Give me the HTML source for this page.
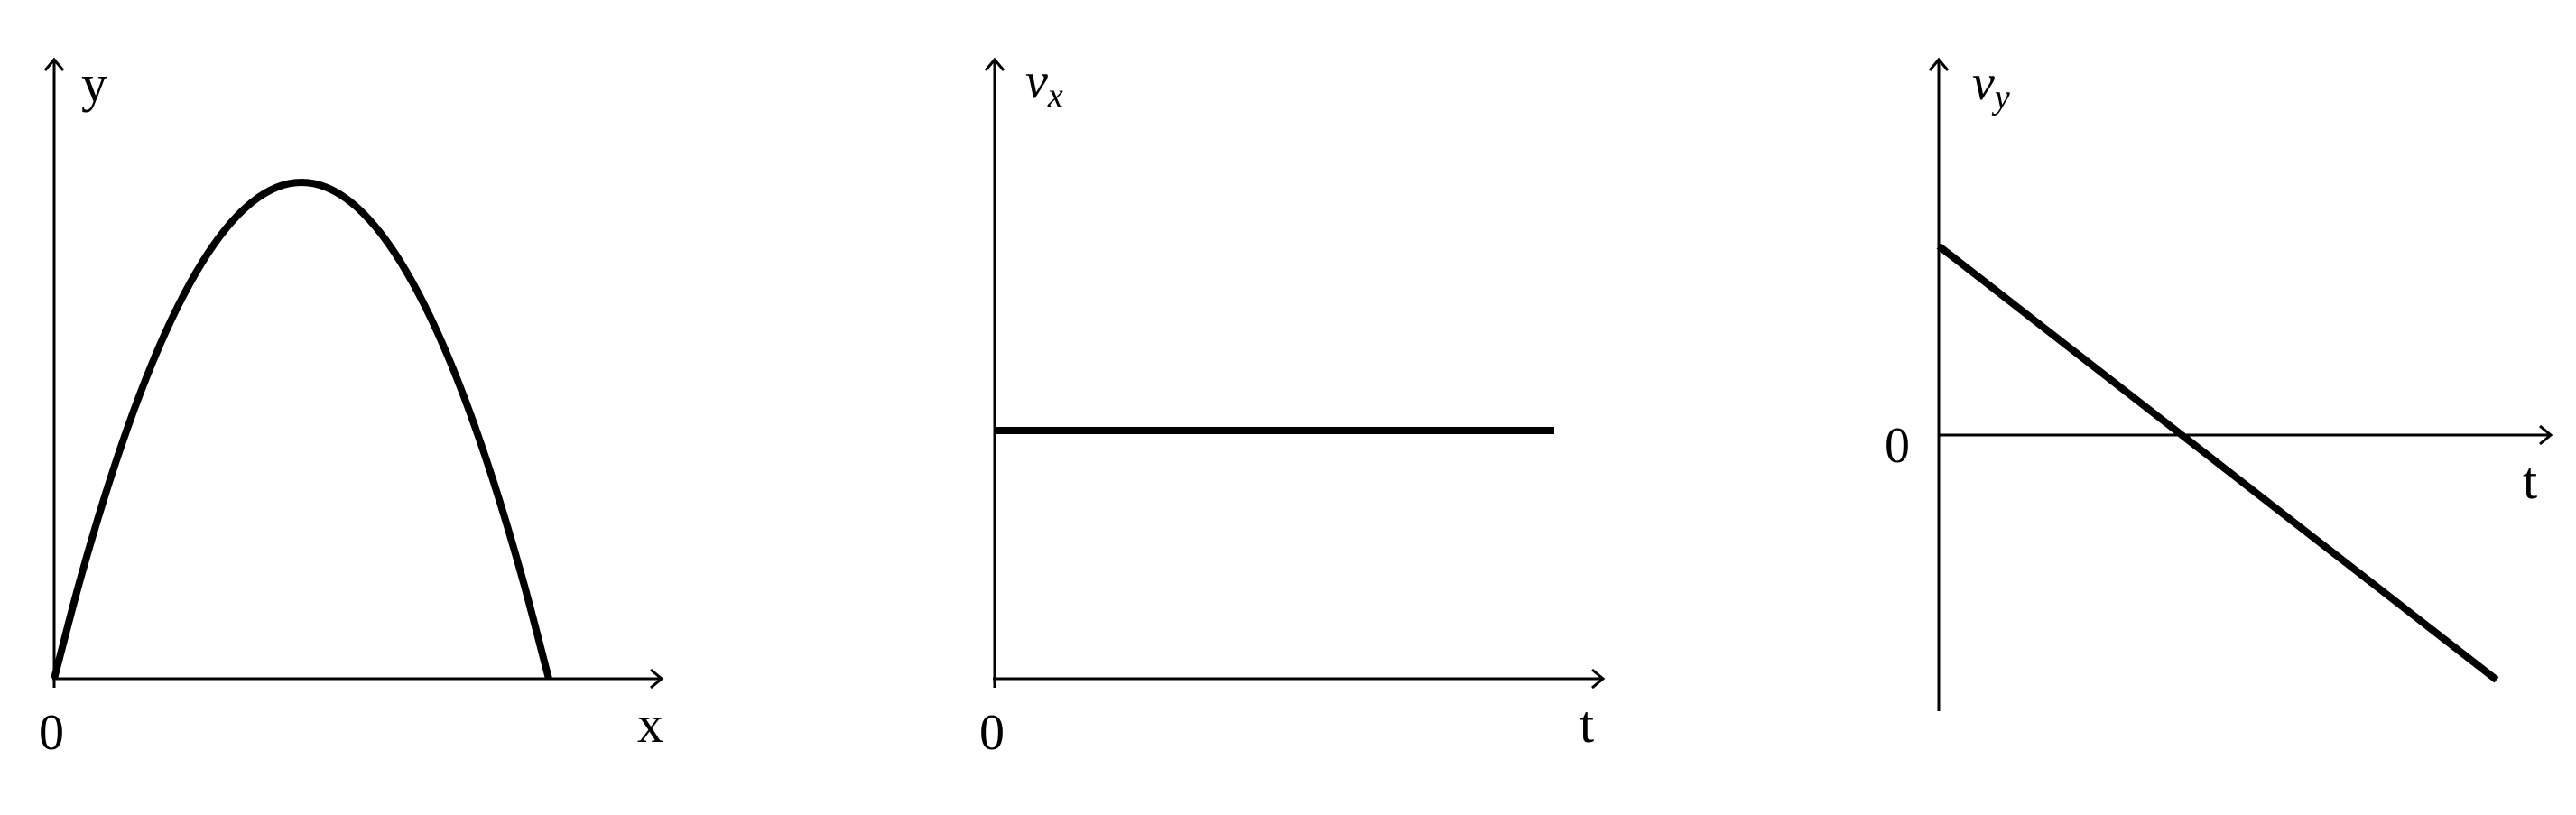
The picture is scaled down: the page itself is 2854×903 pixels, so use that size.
<!DOCTYPE html>
<html><head><meta charset="utf-8"><style>
html,body{margin:0;padding:0;background:#fff}
svg{display:block}
text{font-family:"Liberation Serif",serif;fill:#000}
</style></head><body>
<svg id="chart" width="2854" height="903" viewBox="0 0 2854 903" xmlns="http://www.w3.org/2000/svg">
<defs>
<marker id="arr" markerWidth="20" markerHeight="24" refX="16" refY="12" orient="auto" markerUnits="userSpaceOnUse">
<path d="M4,2 L16,12 L4,22" fill="none" stroke="#000" stroke-width="3"/>
</marker>
</defs>
<g id="p1">
<line x1="60" y1="762" x2="60" y2="66" stroke="#000" stroke-width="3" marker-end="url(#arr)"/>
<line x1="58" y1="752" x2="733" y2="752" stroke="#000" stroke-width="3" marker-end="url(#arr)"/>
<text x="90" y="112" font-size="58">y</text>
<text x="43" y="830" font-size="56">0</text>
<text x="706" y="822" font-size="58">x</text>
</g>
<g id="p2">
<line x1="1102" y1="762" x2="1102" y2="66" stroke="#000" stroke-width="3" marker-end="url(#arr)"/>
<line x1="1100" y1="752" x2="1776" y2="752" stroke="#000" stroke-width="3" marker-end="url(#arr)"/>
<text x="1136" y="108" font-size="56" font-style="italic">v<tspan font-size="38" dy="10">x</tspan></text>
<text x="1085" y="830" font-size="56">0</text>
<text x="1750" y="822" font-size="58">t</text>
</g>
<g id="p3">
<line x1="2148" y1="788" x2="2148" y2="66" stroke="#000" stroke-width="3" marker-end="url(#arr)"/>
<line x1="2148" y1="482" x2="2826" y2="482" stroke="#000" stroke-width="3" marker-end="url(#arr)"/>
<text x="2185" y="110" font-size="56" font-style="italic">v<tspan font-size="38" dy="10">y</tspan></text>
<text x="2088" y="512" font-size="56">0</text>
<text x="2795" y="552" font-size="58">t</text>
</g>
</svg>
<script>
// Trajectory (panel 1): horizontal fraction vs height (peak = 10)
const trajX = [0,0.05,0.1,0.15,0.2,0.25,0.3,0.35,0.4,0.45,0.5,0.55,0.6,0.65,0.7,0.75,0.8,0.85,0.9,0.95,1.0];
const trajY = [0,1.9,3.6,5.1,6.4,7.5,8.4,9.1,9.6,9.9,10,9.9,9.6,9.1,8.4,7.5,6.4,5.1,3.6,1.9,0];
// vx (panel 2): constant
const vxT = [0,10];
const vxV = [5,5];
// vy (panel 3): linear decrease
const vyT = [0,10];
const vyV = [4.4,-5.7];

const NS='http://www.w3.org/2000/svg';
function sx1(v){return 60+v*548;}
function sy1(v){return 752-v*55;}
function sx2(v){return 1102+v*62;}
function sy2(v){return 752-v*55;}
function sx3(v){return 2148+v*61.8;}
function sy3(v){return 482-v*47.6;}
function poly(xs,ys,fx,fy,name,parent){
  const p=document.createElementNS(NS,'polyline');
  p.setAttribute('points',xs.map((x,i)=>fx(x)+','+fy(ys[i])).join(' '));
  p.setAttribute('fill','none');p.setAttribute('stroke','#000');
  p.setAttribute('stroke-width','8');p.setAttribute('stroke-linejoin','round');
  
  
  document.getElementById(parent).appendChild(p);
}
(function(){
  const P=trajX.map((x,i)=>[sx1(x),sy1(trajY[i])]);
  const n=P.length;
  const get=i=>{
    if(i<0) return [2*P[0][0]-P[1][0],2*P[0][1]-P[1][1]];
    if(i>=n) return [2*P[n-1][0]-P[n-2][0],2*P[n-1][1]-P[n-2][1]];
    return P[i];
  };
  let d='M'+P[0][0]+','+P[0][1];
  for(let i=1;i<n;i++){
    const a=get(i-2),b=get(i-1),c=get(i),e=get(i+1);
    d+=' C'+(b[0]+(c[0]-a[0])/6)+','+(b[1]+(c[1]-a[1])/6)+' '+(c[0]-(e[0]-b[0])/6)+','+(c[1]-(e[1]-b[1])/6)+' '+c[0]+','+c[1];
  }
  const p=document.createElementNS(NS,'path');
  p.setAttribute('d',d);p.setAttribute('fill','none');p.setAttribute('stroke','#000');p.setAttribute('stroke-width','8');
  
  
  document.getElementById('p1').appendChild(p);
})();
poly(vxT,vxV,sx2,sy2,'vx-line','p2');
poly(vyT,vyV,sx3,sy3,'vy-line','p3');
</script>
</body></html>
